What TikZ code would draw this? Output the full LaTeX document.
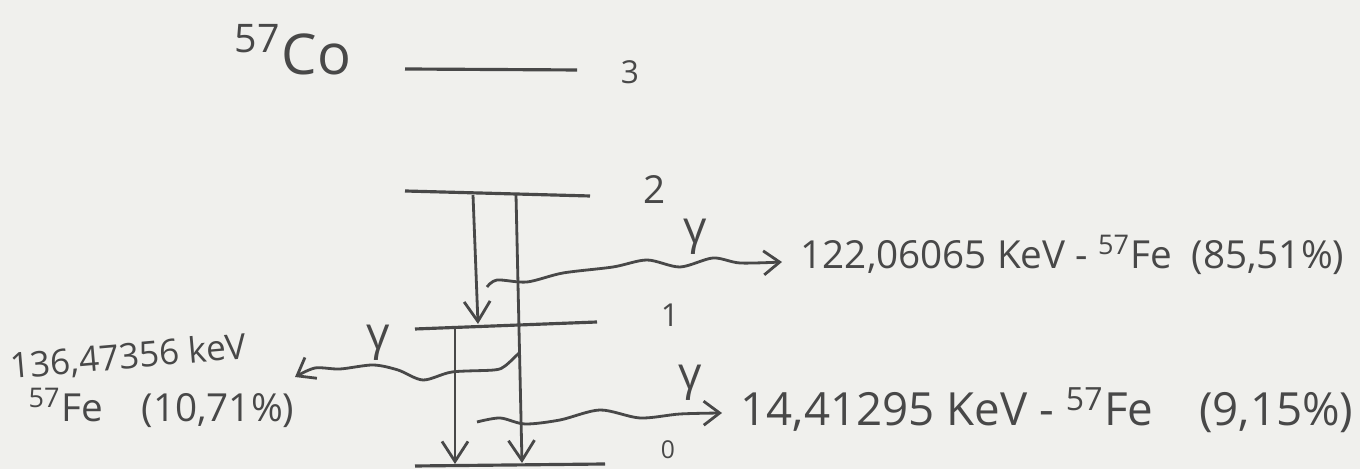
\documentclass[tikz,border=0pt]{standalone}
\usepackage{fontspec}
\setmainfont{Open Sans}
\usetikzlibrary{arrows.meta}
\definecolor{paper}{RGB}{240,240,237}
\definecolor{pencil}{RGB}{72,72,72}

\begin{document}
\begin{tikzpicture}[x=1cm,y=-1cm,
  level/.style={draw=pencil,line width=0.9pt},
  trans/.style={draw=pencil,line width=0.8pt,-{Straight Barb[length=2mm,width=2.6mm]}},
  gam/.style={draw=pencil,line width=0.8pt,-{Straight Barb[length=1.6mm,width=2.4mm]}},
  txt/.style={text=pencil,font=\fontsize{13}{15}\selectfont,inner sep=0pt},
  lbl/.style={text=pencil,font=\fontsize{9}{10}\selectfont,inner sep=0pt}]
\fill[paper] (0,0) rectangle (13.6,4.69);
\useasboundingbox (0,0) rectangle (13.6,4.69);

% Energy levels
\coordinate (l3a) at (4.05,0.69);
\coordinate (l3b) at (5.77,0.70);
\coordinate (l2a) at (4.05,1.91);
\coordinate (l2b) at (5.90,1.96);
\coordinate (l1a) at (4.15,3.29);
\coordinate (l1b) at (5.97,3.22);
\coordinate (l0a) at (4.15,4.66);
\coordinate (l0b) at (6.05,4.64);

\draw[level] (l3a) -- (l3b);
\draw[level] (l2a) -- (l2b);
\draw[level] (l1a) -- (l1b);
\draw[level] (l0a) -- (l0b);

\node[lbl] (n3) at (6.30,0.72) {3};
\node[lbl,font=\fontsize{11}{12}\selectfont] (n2) at (6.55,1.90) {2};
\node[lbl] (n1) at (6.70,3.15) {1};
\node[lbl,font=\fontsize{7}{8}\selectfont] (n0) at (6.68,4.50) {0};

\node[txt,font=\fontsize{16}{18}\selectfont] (co) at (2.93,0.50) {\textsuperscript{57}Co};

% Transitions
\coordinate (t21s) at (4.73,1.95);
\coordinate (t21e) at (4.78,3.24);
\coordinate (t20s) at (5.16,1.95);
\coordinate (t20e) at (5.22,4.63);
\coordinate (t10s) at (4.55,3.28);
\coordinate (t10e) at (4.55,4.64);

\draw[trans] (t21s) -- (t21e);
\draw[trans] (t20s) -- (t20e);
\draw[trans] (t10s) -- (t10e);

% Gamma rays
\coordinate (g1s) at (4.87,2.87);
\coordinate (g1e) at (7.82,2.62);
\coordinate (g2s) at (5.19,3.53);
\coordinate (g2e) at (2.95,3.77);
\coordinate (g3s) at (4.77,4.22);
\coordinate (g3e) at (7.22,4.13);

\draw[gam] plot[smooth] coordinates {(g1s) (4.97,2.80) (5.27,2.82) (5.63,2.73)
  (6.13,2.67) (6.47,2.60) (6.80,2.67) (7.13,2.58) (7.40,2.63) (g1e)};
\draw[gam] plot[smooth] coordinates {(g2s) (5.05,3.66) (4.94,3.70) (4.52,3.72)
  (4.23,3.80) (3.98,3.70) (3.73,3.65) (3.40,3.69) (3.15,3.68) (g2e)};
\draw[gam] plot[smooth] coordinates {(g3s) (5.00,4.18) (5.25,4.24) (5.60,4.20)
  (6.00,4.10) (6.40,4.18) (6.80,4.14) (g3e)};

\node[txt] (y1) at (6.95,2.37) {γ};
\node[txt] (y2) at (3.78,3.43) {γ};
\node[txt] (y3) at (6.90,3.83) {γ};

% Energies
\node[txt,anchor=west,font=\fontsize{11}{14}\selectfont] (e1) at (8.00,2.55)
  {122,06065 KeV - \textsuperscript{57}Fe\enspace(85,51\%)};
\node[txt,anchor=west] (e3) at (7.40,4.10) {14,41295 KeV - \textsuperscript{57}Fe\quad(9,15\%)};
\node[txt,anchor=west,rotate=5,font=\fontsize{10}{12}\selectfont] (e2) at (0.10,3.68) {136,47356 keV};
\node[txt,anchor=west,font=\fontsize{11}{13}\selectfont] (e2b) at (0.28,4.08) {\textsuperscript{57}Fe\quad(10,71\%)};
\end{tikzpicture}
\end{document}
